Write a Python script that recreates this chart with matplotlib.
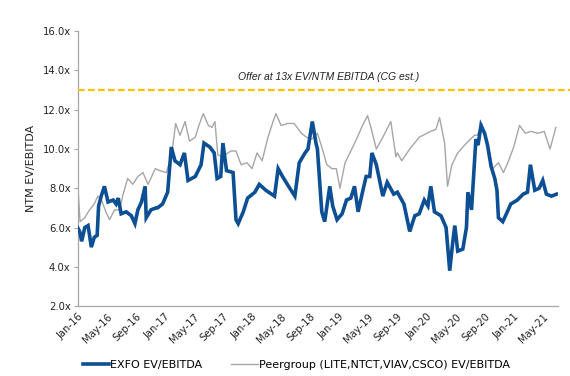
import matplotlib
matplotlib.use("Agg")
import matplotlib.pyplot as plt
import numpy as np

# months since Jan-2016
exfo_months = [0.0, 0.3, 0.57, 1.0, 1.45, 1.9, 2.3, 2.7, 2.9, 3.26, 3.7, 4.2, 4.9, 5.3, 5.6, 6.0,
               6.7, 7.4, 7.9, 8.3, 8.8, 9.3, 9.45, 10.1, 10.8, 11.0, 11.7, 12.4, 12.9, 13.4, 14.1,
               14.7, 15.2, 16.2, 17.0, 17.4, 18.2, 18.8, 19.2, 19.7, 20.0, 20.5, 21.4, 21.8, 22.1,
               22.8, 23.4, 24.4, 25.0, 25.9, 27.1, 27.6, 28.2, 29.2, 29.9, 30.5, 31.3, 31.7, 32.3,
               32.8, 33.0, 33.6, 34.0, 34.7, 35.1, 35.7, 36.4, 37.0, 37.6, 38.1, 38.6, 39.2, 39.7,
               40.2, 40.5, 41.1, 41.5, 42.0, 42.6, 43.5, 44.0, 44.9, 45.7, 46.4, 47.0, 47.7, 48.2,
               48.6, 49.1, 50.0, 50.7, 51.2, 51.6, 51.9, 52.3, 53.0, 53.5, 53.7, 54.2, 54.8, 55.1,
               55.5, 56.0, 56.4, 56.9, 57.4, 57.7, 57.9, 58.5, 59.0, 59.6, 60.5, 61.3, 61.9, 62.3,
               62.9, 63.5, 64.0, 64.5, 65.2, 65.9]
exfo_vals = [6.0, 5.8, 5.3, 6.0, 6.1, 5.0, 5.5, 5.6, 7.1, 7.6, 8.1, 7.3, 7.4, 7.2, 7.5, 6.7,
             6.8, 6.6, 6.2, 6.9, 7.3, 8.1, 6.5, 6.9, 7.0, 7.0, 7.2, 7.8, 10.1, 9.4, 9.2,
             9.8, 8.4, 8.6, 9.2, 10.3, 10.1, 9.8, 8.5, 8.6, 10.3, 8.9, 8.8, 6.4, 6.2,
             6.8, 7.5, 7.8, 8.2, 7.9, 7.6, 9.0, 8.6, 8.0, 7.6, 9.3, 9.8, 10.0, 11.4,
             10.3, 10.0, 6.8, 6.3, 8.1, 7.1, 6.4, 6.7, 7.4, 7.5, 8.1, 6.8, 7.8, 8.6,
             8.6, 9.8, 9.2, 8.5, 7.6, 8.3, 7.7, 7.8, 7.2, 5.8, 6.6, 6.7, 7.4, 7.1,
             8.1, 6.8, 6.6, 6.0, 3.8, 5.2, 6.1, 4.8, 4.9, 6.0, 7.8, 6.9, 10.5, 10.2,
             11.2, 10.8, 10.2, 9.1, 8.5, 7.9, 6.5, 6.3, 6.7, 7.2, 7.4, 7.7, 7.8, 9.2,
             7.9, 8.0, 8.4, 7.7, 7.6, 7.7]

peer_months = [0.0, 0.1, 0.35, 1.0, 1.65, 2.3, 2.8, 3.3, 3.9, 4.4, 5.1, 5.8, 6.2, 6.9, 7.6,
               8.3, 9.0, 9.7, 10.7, 11.3, 12.2, 12.9, 13.5, 14.1, 14.8, 15.4, 16.2, 16.7, 17.3,
               18.0, 18.5, 18.9, 19.3, 19.9, 21.1, 21.8, 22.5, 23.3, 24.0, 24.7, 25.4, 26.2,
               26.9, 27.3, 28.0, 28.9, 29.8, 30.8, 31.5, 32.2, 33.0, 33.6, 34.3, 35.0, 35.6,
               36.1, 36.8, 37.6, 38.5, 39.2, 39.9, 40.5, 41.1, 42.0, 43.1, 43.8, 44.0, 44.6,
               45.7, 47.0, 48.6, 49.3, 49.8, 50.5, 50.9, 51.5, 52.3, 53.5, 54.6, 55.0, 55.6,
               56.0, 56.7, 57.1, 57.9, 58.6, 59.3, 60.0, 60.8, 61.6, 62.4, 63.3, 64.2, 65.0, 65.8]
peer_vals = [10.8, 7.8, 6.3, 6.5, 6.9, 7.2, 7.6, 7.4, 6.8, 6.4, 6.9, 6.9, 7.6, 8.5, 8.2,
             8.6, 8.8, 8.2, 9.0, 8.9, 8.8, 9.6, 11.3, 10.7, 11.4, 10.4, 10.6, 11.2, 11.8,
             11.2, 11.1, 11.4, 9.7, 9.6, 9.9, 9.9, 9.2, 9.3, 9.0, 9.8, 9.4, 10.6,
             11.4, 11.8, 11.2, 11.3, 11.3, 10.8, 10.6, 10.5, 10.8, 10.1, 9.2, 9.0, 9.0,
             8.0, 9.3, 9.9, 10.6, 11.2, 11.7, 10.9, 10.0, 10.6, 11.4, 9.6, 9.8, 9.4,
             10.0, 10.6, 10.9, 11.0, 11.6, 10.3, 8.1, 9.2, 9.8, 10.3, 10.7, 10.7, 11.3,
             10.8, 9.8, 9.0, 9.3, 8.8, 9.4, 10.1, 11.2, 10.8, 10.9, 10.8, 10.9, 10.0, 11.1]

tick_months = list(range(0, 65, 4))
tick_labels = ["Jan-16", "May-16", "Sep-16", "Jan-17", "May-17", "Sep-17", "Jan-18", "May-18",
               "Sep-18", "Jan-19", "May-19", "Sep-19", "Jan-20", "May-20", "Sep-20", "Jan-21",
               "May-21"]
y_ticks = [2, 4, 6, 8, 10, 12, 14, 16]
offer_level = 13

plt.rcParams['font.family'] = ['DejaVu Sans']
fig = plt.figure(figsize=(5.70, 3.76), dpi=100)
ax = fig.add_axes([0.136, 0.186, 0.843, 0.731])

ax.plot(peer_months, peer_vals, color="#A6A6A6", lw=1.0,
        label="Peergroup (LITE,NTCT,VIAV,CSCO) EV/EBITDA", zorder=2)
ax.plot(exfo_months, exfo_vals, color="#0D4F94", lw=2.6,
        label="EXFO EV/EBITDA", zorder=3, solid_joinstyle="miter")
ax.axhline(offer_level, xmin=0, xmax=1.025, color="#FFC000", lw=1.6,
           dashes=(3, 1.5), clip_on=False, zorder=4)
ax.text(34.6, offer_level + 0.65, "Offer at 13x EV/NTM EBITDA (CG est.)",
        ha="center", va="center", fontsize=7.5, style="italic",
        family="Liberation Sans", color="#222222")

ax.set_xlim(0, 66.1)
ax.set_ylim(2, 16)
ax.set_yticks(y_ticks)
ax.set_yticklabels([f"{v:.1f}x" for v in y_ticks], fontsize=7.2, color="#222222")
ax.set_xticks(tick_months)
ax.set_xticklabels(tick_labels, rotation=45, ha="right", rotation_mode="anchor",
                   fontsize=7.2, color="#222222")
ax.tick_params(axis="x", length=0, pad=4)
ax.tick_params(axis="y", length=3, width=0.8, color="#A6A6A6", pad=2)
for s in ["top", "right"]:
    ax.spines[s].set_visible(False)
for s in ["left", "bottom"]:
    ax.spines[s].set_color("#A6A6A6")
    ax.spines[s].set_linewidth(0.9)
ax.set_ylabel("NTM EV/EBITDA", fontsize=8, color="#222222", labelpad=5)

handles, labels = ax.get_legend_handles_labels()
leg = fig.legend([handles[1], handles[0]], [labels[1], labels[0]], loc="center",
                 bbox_to_anchor=(0.52, 0.029), ncol=2, frameon=False, fontsize=8,
                 handlelength=2.4, handletextpad=0.1, columnspacing=2.6)

fig.savefig("out.png", dpi=100)
